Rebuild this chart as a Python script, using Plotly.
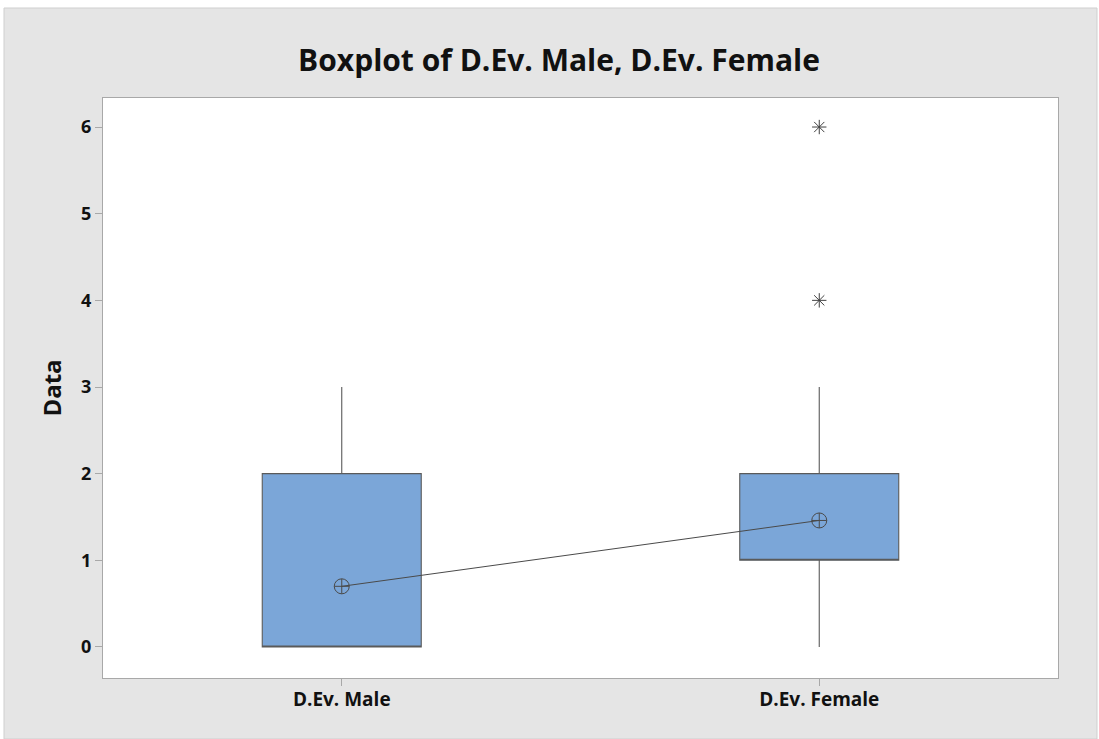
import plotly.graph_objects as go

# Summary statistics per group
groups = ["D.Ev. Male", "D.Ev. Female"]
q1 = [0, 1]
median = [0, 1]
q3 = [2, 2]
lower_whisker = [0, 0]
upper_whisker = [3, 3]
means = [0.70, 1.46]

# Outlying observations
outlier_group = ["D.Ev. Female", "D.Ev. Female"]
outlier_value = [4, 6]

y_ticks = [0, 1, 2, 3, 4, 5, 6]

BOX_FILL = "#7ba6d8"
EDGE = "#5a5a5a"
FONT = "Open Sans"

fig = go.Figure()

fig.add_trace(go.Box(
    x=groups,
    q1=q1, median=median, q3=q3,
    lowerfence=lower_whisker, upperfence=upper_whisker,
    width=0.333,
    whiskerwidth=0,
    fillcolor=BOX_FILL,
    line=dict(color=EDGE, width=1.1),
    boxpoints=False,
    showlegend=False,
    hoverinfo="skip",
))

# Mean connect line with circle-cross symbols
fig.add_trace(go.Scatter(
    x=groups, y=means,
    mode="lines+markers",
    line=dict(color="#4a4a4a", width=1),
    marker=dict(symbol="circle-cross-open", size=15, color="#4a4a4a",
                line=dict(width=1)),
    showlegend=False,
))

# Outliers
fig.add_trace(go.Scatter(
    x=outlier_group, y=outlier_value,
    mode="markers",
    marker=dict(symbol="asterisk-open", size=12, color="#404040",
                line=dict(width=1, color="#404040")),
    showlegend=False,
))

W, H = 1099, 739
L, R, T, B = 103, 41, 98, 61
pw, ph = W - L - R, H - T - B

def px_x(px):
    return (px - L) / pw

def px_y(py):
    return (H - B - py) / ph

# Gray frame, then the white data region on top of it
fig.add_shape(
    type="rect", xref="paper", yref="paper", layer="below",
    x0=px_x(4), x1=px_x(1097), y0=px_y(739), y1=px_y(8),
    fillcolor="#e5e5e5", line=dict(color="#cfcfcf", width=1),
)
fig.add_shape(
    type="rect", xref="paper", yref="paper", layer="below",
    x0=0, x1=1, y0=0, y1=1,
    fillcolor="white", line=dict(width=0),
)

fig.update_layout(
    width=W, height=H,
    margin=dict(l=L, r=R, t=T, b=B),
    paper_bgcolor="white",
    plot_bgcolor="white",
    font=dict(family=FONT, color="#111111"),
    title=dict(
        text="<b>Boxplot of D.Ev. Male, D.Ev. Female</b>",
        x=(298 + 820) / 2 / W, xanchor="center",
        y=1 - 60 / H, yanchor="middle",
        font=dict(size=30, family=FONT, color="#111111"),
    ),
)

fig.update_xaxes(
    type="category",
    range=[-0.5, 1.5],
    showline=True, linecolor="#a8a8a8", linewidth=1, mirror=True,
    ticks="outside", ticklen=7, tickcolor="#a8a8a8",
    ticklabelstandoff=-3,
    tickfont=dict(size=19, family=FONT, color="#111111", weight="bold"),
    showgrid=False, zeroline=False,
)

fig.update_yaxes(
    range=[-0.358, 6.335],
    tickvals=y_ticks,
    showline=True, linecolor="#a8a8a8", linewidth=1, mirror=True,
    ticks="outside", ticklen=7, tickcolor="#a8a8a8",
    tickfont=dict(size=18, family=FONT, color="#111111", weight="bold"),
    showgrid=False, zeroline=False,
    title=dict(text="<b>Data</b>", font=dict(size=24, family=FONT, color="#111111"),
               standoff=12),
)

fig.write_html("out.html")
